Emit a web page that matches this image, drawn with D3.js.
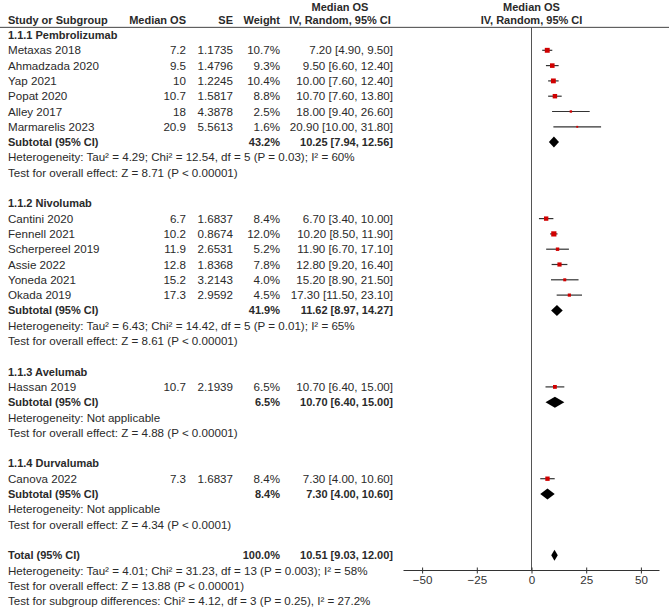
<!DOCTYPE html>
<html>
<head>
<meta charset="utf-8">
<script src="https://cdn.jsdelivr.net/npm/d3@7"></script>
<style>
  html, body { margin: 0; padding: 0; background: #fff; }
  svg { display: block; }
  text { font-family: "Liberation Sans", Arial, sans-serif; fill: #2a2a2a; }
</style>
</head>
<body>
<div id="chart"></div>
<script>
// ---------------- DATA ----------------
const groupNames = ["1.1.1 Pembrolizumab", "1.1.2 Nivolumab", "1.1.3 Avelumab", "1.1.4 Durvalumab"];

const studyNames = ["Metaxas 2018", "Ahmadzada 2020", "Yap 2021", "Popat 2020", "Alley 2017", "Marmarelis 2023",
  "Cantini 2020", "Fennell 2021", "Scherpereel 2019", "Assie 2022", "Yoneda 2021", "Okada 2019",
  "Hassan 2019",
  "Canova 2022"];
const studyGroup = [0, 0, 0, 0, 0, 0, 1, 1, 1, 1, 1, 1, 2, 3];
const medianOS = [7.2, 9.5, 10, 10.7, 18, 20.9, 6.7, 10.2, 11.9, 12.8, 15.2, 17.3, 10.7, 7.3];
const seValues = ["1.1735", "1.4796", "1.2245", "1.5817", "4.3878", "5.5613",
  "1.6837", "0.8674", "2.6531", "1.8368", "3.2143", "2.9592", "2.1939", "1.6837"];
const weights = [10.7, 9.3, 10.4, 8.8, 2.5, 1.6, 8.4, 12.0, 5.2, 7.8, 4.0, 4.5, 6.5, 8.4];
const ciLow = [4.90, 6.60, 7.60, 7.60, 9.40, 10.00, 3.40, 8.50, 6.70, 9.20, 8.90, 11.50, 6.40, 4.00];
const ciHigh = [9.50, 12.40, 12.40, 13.80, 26.60, 31.80, 10.00, 11.90, 17.10, 16.40, 21.50, 23.10, 15.00, 10.60];

const subtotalWeight = [43.2, 41.9, 6.5, 8.4];
const subtotalEst = [10.25, 11.62, 10.70, 7.30];
const subtotalLow = [7.94, 8.97, 6.40, 4.00];
const subtotalHigh = [12.56, 14.27, 15.00, 10.60];
const heterogeneity = [
  "Heterogeneity: Tau\u00B2 = 4.29; Chi\u00B2 = 12.54, df = 5 (P = 0.03); I\u00B2 = 60%",
  "Heterogeneity: Tau\u00B2 = 6.43; Chi\u00B2 = 14.42, df = 5 (P = 0.01); I\u00B2 = 65%",
  "Heterogeneity: Not applicable",
  "Heterogeneity: Not applicable"];
const overallTest = [
  "Test for overall effect: Z = 8.71 (P < 0.00001)",
  "Test for overall effect: Z = 8.61 (P < 0.00001)",
  "Test for overall effect: Z = 4.88 (P < 0.00001)",
  "Test for overall effect: Z = 4.34 (P < 0.0001)"];

const totalWeight = 100.0;
const totalEst = 10.51, totalLow = 9.03, totalHigh = 12.00;
const totalNotes = [
  "Heterogeneity: Tau\u00B2 = 4.01; Chi\u00B2 = 31.23, df = 13 (P = 0.003); I\u00B2 = 58%",
  "Test for overall effect: Z = 13.88 (P < 0.00001)",
  "Test for subgroup differences: Chi\u00B2 = 4.12, df = 3 (P = 0.25), I\u00B2 = 27.2%"];

const xTicks = [-50, -25, 0, 25, 50];
const colHeaders = ["Study or Subgroup", "Median OS", "SE", "Weight", "IV, Random, 95% CI"];
const effectTitle = ["Median OS", "IV, Random, 95% CI"];

// ---------------- LAYOUT ----------------
const W = 669, H = 609;
const svg = d3.select("#chart").append("svg").attr("width", W).attr("height", H);

// build row list
const rows = [];
rows.push({type: "head1"});
rows.push({type: "head2"});
groupNames.forEach((g, gi) => {
  rows.push({type: "group", text: g});
  studyNames.forEach((s, i) => { if (studyGroup[i] === gi) rows.push({type: "study", i}); });
  rows.push({type: "subtotal", gi});
  rows.push({type: "note", text: heterogeneity[gi]});
  rows.push({type: "note", text: overallTest[gi]});
  rows.push({type: "blank"});
});
rows.push({type: "total"});
totalNotes.forEach(t => rows.push({type: "note", text: t}));

const y = d3.scaleLinear().domain([0, rows.length - 1]).range([4.4, 601.1]);
const x = d3.scaleLinear().domain([-58.5, 58.5]).range([403.5, 659.5]);
const boxSize = d3.scaleSqrt().domain([0, 12]).range([0, 5.2]);

const colX = {name: 8, median: 186, se: 233, weight: 280, ci: 393, ciCenter: 340};
const fsReg = 11.6, fsBold = 11, base = 4;

function txt(xp, yp, s, opts = {}) {
  return svg.append("text")
    .attr("x", xp).attr("y", yp + base)
    .attr("text-anchor", opts.anchor || "start")
    .attr("font-size", opts.bold ? fsBold : fsReg)
    .attr("font-weight", opts.bold ? "bold" : "normal")
    .text(s);
}
const fmt2 = d3.format(".2f");
const ciText = (e, l, h) => `${fmt2(e)} [${fmt2(l)}, ${fmt2(h)}]`;

const axisRow = rows.length - 3; // axis aligned with heterogeneity line of total
const yAxis = y(axisRow);
const headerRuleY = (y(1) + y(2)) / 2;

// header rule
svg.append("line").attr("x1", 0).attr("x2", W).attr("y1", headerRuleY).attr("y2", headerRuleY)
  .attr("stroke", "#444").attr("stroke-width", 1);
// zero line
svg.append("line").attr("x1", x(0)).attr("x2", x(0)).attr("y1", headerRuleY).attr("y2", yAxis)
  .attr("stroke", "#555").attr("stroke-width", 1);

rows.forEach((r, k) => {
  const yc = y(k);
  if (r.type === "head1") {
    const yt = yc + 2.6;
    txt(colX.ciCenter, yt, effectTitle[0], {bold: true, anchor: "middle"});
    txt(x(0), yt, effectTitle[0], {bold: true, anchor: "middle"});
  } else if (r.type === "head2") {
    txt(colX.name, yc, colHeaders[0], {bold: true});
    txt(colX.median, yc, colHeaders[1], {bold: true, anchor: "end"});
    txt(colX.se, yc, colHeaders[2], {bold: true, anchor: "end"});
    txt(colX.weight, yc, colHeaders[3], {bold: true, anchor: "end"});
    txt(colX.ciCenter, yc, colHeaders[4], {bold: true, anchor: "middle"});
    txt(x(0), yc, effectTitle[1], {bold: true, anchor: "middle"});
  } else if (r.type === "group") {
    txt(colX.name, yc, r.text, {bold: true});
  } else if (r.type === "study") {
    const i = r.i;
    txt(colX.name, yc, studyNames[i]);
    txt(colX.median, yc, String(medianOS[i]), {anchor: "end"});
    txt(colX.se, yc, seValues[i], {anchor: "end"});
    txt(colX.weight, yc, weights[i].toFixed(1) + "%", {anchor: "end"});
    txt(colX.ci, yc, ciText(medianOS[i], ciLow[i], ciHigh[i]), {anchor: "end"});
    svg.append("line").attr("x1", x(ciLow[i])).attr("x2", x(ciHigh[i]))
      .attr("y1", yc).attr("y2", yc).attr("stroke", "#333").attr("stroke-width", 1.2);
    const s = Math.max(1.8, boxSize(weights[i]));
    svg.append("rect").attr("x", x(medianOS[i]) - s / 2).attr("y", yc - s / 2)
      .attr("width", s).attr("height", s).attr("fill", "#d00000");
  } else if (r.type === "subtotal" || r.type === "total") {
    const isT = r.type === "total";
    const e = isT ? totalEst : subtotalEst[r.gi];
    const l = isT ? totalLow : subtotalLow[r.gi];
    const h = isT ? totalHigh : subtotalHigh[r.gi];
    const w = isT ? totalWeight : subtotalWeight[r.gi];
    txt(colX.name, yc, isT ? "Total (95% CI)" : "Subtotal (95% CI)", {bold: true});
    txt(colX.weight, yc, w.toFixed(1) + "%", {bold: true, anchor: "end"});
    txt(colX.ci, yc, ciText(e, l, h), {bold: true, anchor: "end"});
    const dh = 5.5;
    svg.append("path")
      .attr("d", `M${x(l)},${yc} L${x(e)},${yc - dh} L${x(h)},${yc} L${x(e)},${yc + dh} Z`)
      .attr("fill", "#000");
  } else if (r.type === "note") {
    txt(colX.name, yc, r.text);
  }
});

// axis
const axisG = svg.append("g").attr("transform", `translate(0,${yAxis})`);
axisG.append("line").attr("x1", x.range()[0]).attr("x2", x.range()[1])
  .attr("stroke", "#333").attr("stroke-width", 1);
const ax = d3.axisBottom(x).tickValues(xTicks).tickSize(4).tickSizeOuter(0).tickFormat(d3.format("d"));
const gA = axisG.append("g").call(ax);
gA.select(".domain").remove();
gA.selectAll(".tick line").attr("y1", -3).attr("y2", 3).attr("stroke", "#333");
gA.selectAll(".tick text").attr("y", 5).attr("dy", "0.71em")
  .attr("font-size", 11.6).attr("font-family", "Liberation Sans, Arial, sans-serif").style("fill", "#333");
</script>
</body>
</html>
